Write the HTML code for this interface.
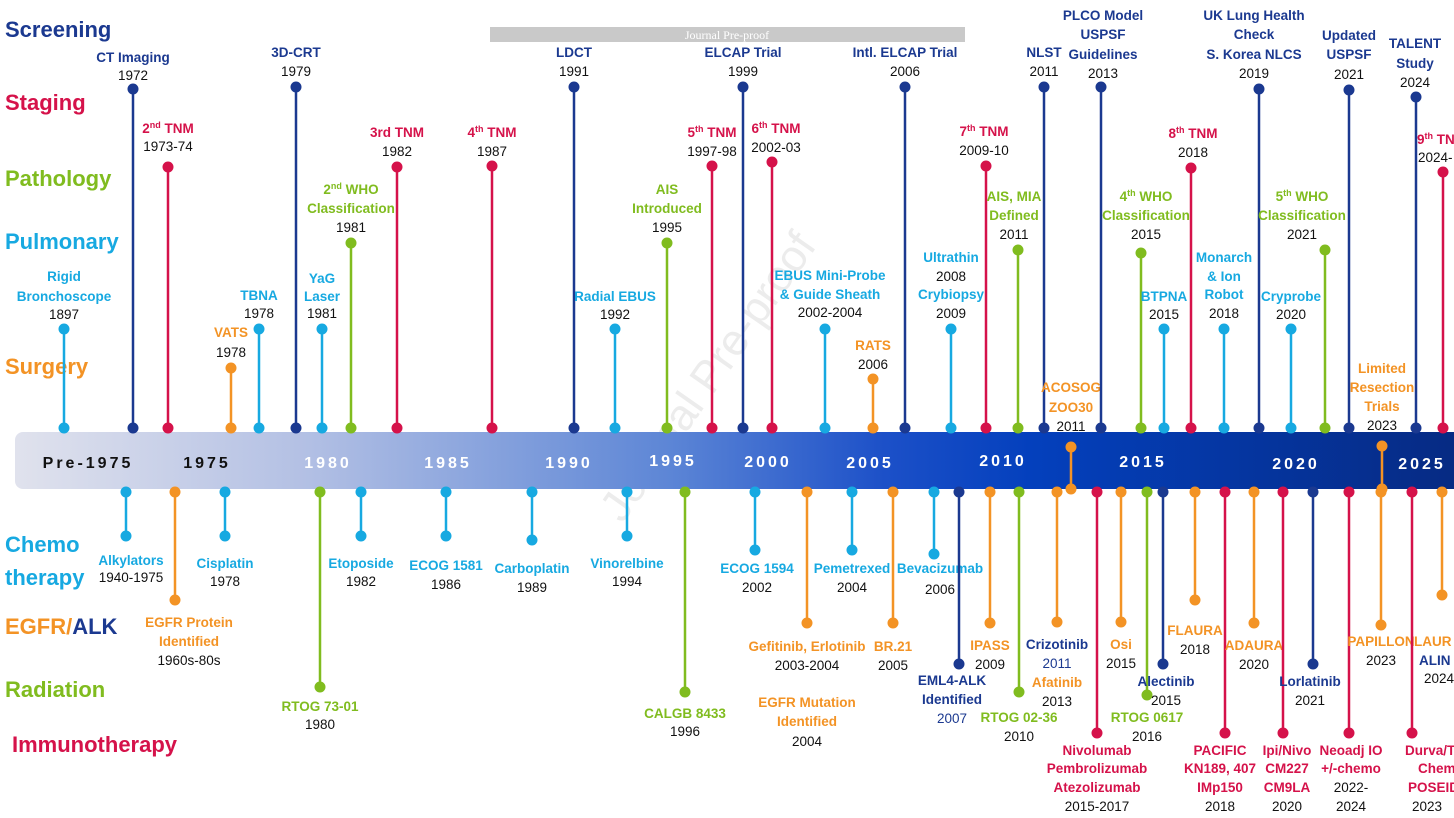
<!DOCTYPE html>
<html><head><meta charset="utf-8"><style>
html,body{margin:0;padding:0;background:#fff;}
svg{display:block;}
text{font-family:"Liberation Sans",sans-serif;}
.b{font-weight:bold;font-size:13.5px;}
.y{font-size:13.5px;fill:#111;}
.cat{font-weight:bold;font-size:22px;}
.ax{font-weight:bold;font-size:16px;fill:#fff;letter-spacing:3px;}
.n{fill:#1b3990;stroke:#1b3990;} .r{fill:#d5124a;stroke:#d5124a;} .g{fill:#80bc1f;stroke:#80bc1f;} .c{fill:#17a9e1;stroke:#17a9e1;} .o{fill:#f39325;stroke:#f39325;}
line{stroke-width:2.5;}
text.n,text.r,text.g,text.c,text.o,tspan{stroke:none;}
</style></head><body>
<svg width="1454" height="818" viewBox="0 0 1454 818" xmlns="http://www.w3.org/2000/svg">
<defs>
<linearGradient id="bg" x1="0" x2="1" y1="0" y2="0">
<stop offset="0" stop-color="#e0e2ed"/><stop offset="0.2" stop-color="#b3c0e4"/><stop offset="0.45" stop-color="#5d86d6"/><stop offset="0.6" stop-color="#1c50c8"/><stop offset="0.7" stop-color="#0440bd"/><stop offset="1" stop-color="#062a82"/>
</linearGradient>
</defs>
<rect x="490" y="27" width="475" height="15" fill="#c9c9c9"/>
<text x="727" y="39" text-anchor="middle" style="font-family:'Liberation Serif',serif;font-size:12px;fill:#fff">Journal Pre-proof</text>
<text x="720" y="385" text-anchor="middle" transform="rotate(-55 720 385)" style="font-size:44px;fill:#ececec">Journal Pre-proof</text>

<rect x="15" y="432" width="1450" height="57" rx="8" fill="url(#bg)"/>
<text x="88" y="468" text-anchor="middle" class="ax" style="fill:#111">Pre-1975</text>
<text x="207" y="468" text-anchor="middle" class="ax" style="fill:#111">1975</text>
<text x="328" y="468" text-anchor="middle" class="ax">1980</text>
<text x="448" y="468" text-anchor="middle" class="ax">1985</text>
<text x="569" y="468" text-anchor="middle" class="ax">1990</text>
<text x="673" y="466" text-anchor="middle" class="ax">1995</text>
<text x="768" y="467" text-anchor="middle" class="ax">2000</text>
<text x="870" y="468" text-anchor="middle" class="ax">2005</text>
<text x="1003" y="466" text-anchor="middle" class="ax">2010</text>
<text x="1143" y="467" text-anchor="middle" class="ax">2015</text>
<text x="1296" y="469" text-anchor="middle" class="ax">2020</text>
<text x="1422" y="469" text-anchor="middle" class="ax">2025</text>

<text x="5" y="37" class="cat n">Screening</text>
<text x="5" y="110" class="cat r">Staging</text>
<text x="5" y="186" class="cat g">Pathology</text>
<text x="5" y="249" class="cat c">Pulmonary</text>
<text x="5" y="374" class="cat o">Surgery</text>
<text x="5" y="552" class="cat c">Chemo</text>
<text x="5" y="585" class="cat c">therapy</text>
<text x="5" y="634" class="cat o">EGFR/<tspan style="fill:#1b3990">ALK</tspan></text>
<text x="5" y="697" class="cat g">Radiation</text>
<text x="12" y="752" class="cat r">Immunotherapy</text>

<g class="c"><line x1="64" y1="329" x2="64" y2="428"/><circle cx="64" cy="329" r="5"/><circle cx="64" cy="428" r="5"/></g>
<text x="64" y="281" text-anchor="middle" class="b c">Rigid</text><text x="64" y="301" text-anchor="middle" class="b c">Bronchoscope</text><text x="64" y="319" text-anchor="middle" class="y">1897</text>

<g class="n"><line x1="133" y1="89" x2="133" y2="428"/><circle cx="133" cy="89" r="5"/><circle cx="133" cy="428" r="5"/></g>
<text x="133" y="62" text-anchor="middle" class="b n">CT Imaging</text><text x="133" y="80" text-anchor="middle" class="y">1972</text>

<g class="r"><line x1="168" y1="167" x2="168" y2="428"/><circle cx="168" cy="167" r="5"/><circle cx="168" cy="428" r="5"/></g>
<text x="168" y="133" text-anchor="middle" class="b r">2<tspan font-size="9" dy="-5">nd</tspan><tspan dy="5"> TNM</tspan></text><text x="168" y="151" text-anchor="middle" class="y">1973-74</text>

<g class="o"><line x1="231" y1="368" x2="231" y2="428"/><circle cx="231" cy="368" r="5"/><circle cx="231" cy="428" r="5"/></g>
<text x="231" y="337" text-anchor="middle" class="b o">VATS</text><text x="231" y="357" text-anchor="middle" class="y">1978</text>

<g class="c"><line x1="259" y1="329" x2="259" y2="428"/><circle cx="259" cy="329" r="5"/><circle cx="259" cy="428" r="5"/></g>
<text x="259" y="300" text-anchor="middle" class="b c">TBNA</text><text x="259" y="318" text-anchor="middle" class="y">1978</text>

<g class="n"><line x1="296" y1="87" x2="296" y2="428"/><circle cx="296" cy="87" r="5"/><circle cx="296" cy="428" r="5"/></g>
<text x="296" y="57" text-anchor="middle" class="b n">3D-CRT</text><text x="296" y="76" text-anchor="middle" class="y">1979</text>

<g class="c"><line x1="322" y1="329" x2="322" y2="428"/><circle cx="322" cy="329" r="5"/><circle cx="322" cy="428" r="5"/></g>
<text x="322" y="283" text-anchor="middle" class="b c">YaG</text><text x="322" y="301" text-anchor="middle" class="b c">Laser</text><text x="322" y="318" text-anchor="middle" class="y">1981</text>

<g class="g"><line x1="351" y1="243" x2="351" y2="428"/><circle cx="351" cy="243" r="5"/><circle cx="351" cy="428" r="5"/></g>
<text x="351" y="194" text-anchor="middle" class="b g">2<tspan font-size="9" dy="-5">nd</tspan><tspan dy="5"> WHO</tspan></text><text x="351" y="213" text-anchor="middle" class="b g">Classification</text><text x="351" y="232" text-anchor="middle" class="y">1981</text>

<g class="r"><line x1="397" y1="167" x2="397" y2="428"/><circle cx="397" cy="167" r="5"/><circle cx="397" cy="428" r="5"/></g>
<text x="397" y="137" text-anchor="middle" class="b r">3rd TNM</text><text x="397" y="156" text-anchor="middle" class="y">1982</text>

<g class="r"><line x1="492" y1="166" x2="492" y2="428"/><circle cx="492" cy="166" r="5"/><circle cx="492" cy="428" r="5"/></g>
<text x="492" y="137" text-anchor="middle" class="b r">4<tspan font-size="9" dy="-5">th</tspan><tspan dy="5"> TNM</tspan></text><text x="492" y="156" text-anchor="middle" class="y">1987</text>

<g class="n"><line x1="574" y1="87" x2="574" y2="428"/><circle cx="574" cy="87" r="5"/><circle cx="574" cy="428" r="5"/></g>
<text x="574" y="57" text-anchor="middle" class="b n">LDCT</text><text x="574" y="76" text-anchor="middle" class="y">1991</text>

<g class="c"><line x1="615" y1="329" x2="615" y2="428"/><circle cx="615" cy="329" r="5"/><circle cx="615" cy="428" r="5"/></g>
<text x="615" y="301" text-anchor="middle" class="b c">Radial EBUS</text><text x="615" y="319" text-anchor="middle" class="y">1992</text>

<g class="g"><line x1="667" y1="243" x2="667" y2="428"/><circle cx="667" cy="243" r="5"/><circle cx="667" cy="428" r="5"/></g>
<text x="667" y="194" text-anchor="middle" class="b g">AIS</text><text x="667" y="213" text-anchor="middle" class="b g">Introduced</text><text x="667" y="232" text-anchor="middle" class="y">1995</text>

<g class="r"><line x1="712" y1="166" x2="712" y2="428"/><circle cx="712" cy="166" r="5"/><circle cx="712" cy="428" r="5"/></g>
<text x="712" y="137" text-anchor="middle" class="b r">5<tspan font-size="9" dy="-5">th</tspan><tspan dy="5"> TNM</tspan></text><text x="712" y="156" text-anchor="middle" class="y">1997-98</text>

<g class="n"><line x1="743" y1="87" x2="743" y2="428"/><circle cx="743" cy="87" r="5"/><circle cx="743" cy="428" r="5"/></g>
<text x="743" y="57" text-anchor="middle" class="b n">ELCAP Trial</text><text x="743" y="76" text-anchor="middle" class="y">1999</text>

<g class="r"><line x1="772" y1="162" x2="772" y2="428"/><circle cx="772" cy="162" r="5"/><circle cx="772" cy="428" r="5"/></g>
<text x="776" y="133" text-anchor="middle" class="b r">6<tspan font-size="9" dy="-5">th</tspan><tspan dy="5"> TNM</tspan></text><text x="776" y="152" text-anchor="middle" class="y">2002-03</text>

<g class="c"><line x1="825" y1="329" x2="825" y2="428"/><circle cx="825" cy="329" r="5"/><circle cx="825" cy="428" r="5"/></g>
<text x="830" y="280" text-anchor="middle" class="b c">EBUS Mini-Probe</text><text x="830" y="299" text-anchor="middle" class="b c">&amp; Guide Sheath</text><text x="830" y="317" text-anchor="middle" class="y">2002-2004</text>

<g class="o"><line x1="873" y1="379" x2="873" y2="428"/><circle cx="873" cy="379" r="5"/><circle cx="873" cy="428" r="5"/></g>
<text x="873" y="350" text-anchor="middle" class="b o">RATS</text><text x="873" y="369" text-anchor="middle" class="y">2006</text>

<g class="n"><line x1="905" y1="87" x2="905" y2="428"/><circle cx="905" cy="87" r="5"/><circle cx="905" cy="428" r="5"/></g>
<text x="905" y="57" text-anchor="middle" class="b n">Intl. ELCAP Trial</text><text x="905" y="76" text-anchor="middle" class="y">2006</text>

<g class="c"><line x1="951" y1="329" x2="951" y2="428"/><circle cx="951" cy="329" r="5"/><circle cx="951" cy="428" r="5"/></g>
<text x="951" y="262" text-anchor="middle" class="b c">Ultrathin</text><text x="951" y="281" text-anchor="middle" class="y">2008</text><text x="951" y="299" text-anchor="middle" class="b c">Crybiopsy</text><text x="951" y="318" text-anchor="middle" class="y">2009</text>

<g class="r"><line x1="986" y1="166" x2="986" y2="428"/><circle cx="986" cy="166" r="5"/><circle cx="986" cy="428" r="5"/></g>
<text x="984" y="136" text-anchor="middle" class="b r">7<tspan font-size="9" dy="-5">th</tspan><tspan dy="5"> TNM</tspan></text><text x="984" y="155" text-anchor="middle" class="y">2009-10</text>

<g class="g"><line x1="1018" y1="250" x2="1018" y2="428"/><circle cx="1018" cy="250" r="5"/><circle cx="1018" cy="428" r="5"/></g>
<text x="1014" y="201" text-anchor="middle" class="b g">AIS, MIA</text><text x="1014" y="220" text-anchor="middle" class="b g">Defined</text><text x="1014" y="239" text-anchor="middle" class="y">2011</text>

<g class="n"><line x1="1044" y1="87" x2="1044" y2="428"/><circle cx="1044" cy="87" r="5"/><circle cx="1044" cy="428" r="5"/></g>
<text x="1044" y="57" text-anchor="middle" class="b n">NLST</text><text x="1044" y="76" text-anchor="middle" class="y">2011</text>

<g class="o"><line x1="1071" y1="447" x2="1071" y2="489"/><circle cx="1071" cy="447" r="5"/><circle cx="1071" cy="489" r="5"/></g>
<text x="1071" y="392" text-anchor="middle" class="b o">ACOSOG</text><text x="1071" y="412" text-anchor="middle" class="b o">ZOO30</text><text x="1071" y="431" text-anchor="middle" class="y">2011</text>

<g class="n"><line x1="1101" y1="87" x2="1101" y2="428"/><circle cx="1101" cy="87" r="5"/><circle cx="1101" cy="428" r="5"/></g>
<text x="1103" y="20" text-anchor="middle" class="b n">PLCO Model</text><text x="1103" y="39" text-anchor="middle" class="b n">USPSF</text><text x="1103" y="59" text-anchor="middle" class="b n">Guidelines</text><text x="1103" y="78" text-anchor="middle" class="y">2013</text>

<g class="g"><line x1="1141" y1="253" x2="1141" y2="428"/><circle cx="1141" cy="253" r="5"/><circle cx="1141" cy="428" r="5"/></g>
<text x="1146" y="201" text-anchor="middle" class="b g">4<tspan font-size="9" dy="-5">th</tspan><tspan dy="5"> WHO</tspan></text><text x="1146" y="220" text-anchor="middle" class="b g">Classification</text><text x="1146" y="239" text-anchor="middle" class="y">2015</text>

<g class="c"><line x1="1164" y1="329" x2="1164" y2="428"/><circle cx="1164" cy="329" r="5"/><circle cx="1164" cy="428" r="5"/></g>
<text x="1164" y="301" text-anchor="middle" class="b c">BTPNA</text><text x="1164" y="319" text-anchor="middle" class="y">2015</text>

<g class="r"><line x1="1191" y1="168" x2="1191" y2="428"/><circle cx="1191" cy="168" r="5"/><circle cx="1191" cy="428" r="5"/></g>
<text x="1193" y="138" text-anchor="middle" class="b r">8<tspan font-size="9" dy="-5">th</tspan><tspan dy="5"> TNM</tspan></text><text x="1193" y="157" text-anchor="middle" class="y">2018</text>

<g class="c"><line x1="1224" y1="329" x2="1224" y2="428"/><circle cx="1224" cy="329" r="5"/><circle cx="1224" cy="428" r="5"/></g>
<text x="1224" y="262" text-anchor="middle" class="b c">Monarch</text><text x="1224" y="281" text-anchor="middle" class="b c">&amp; Ion</text><text x="1224" y="299" text-anchor="middle" class="b c">Robot</text><text x="1224" y="318" text-anchor="middle" class="y">2018</text>

<g class="n"><line x1="1259" y1="89" x2="1259" y2="428"/><circle cx="1259" cy="89" r="5"/><circle cx="1259" cy="428" r="5"/></g>
<text x="1254" y="20" text-anchor="middle" class="b n">UK Lung Health</text><text x="1254" y="39" text-anchor="middle" class="b n">Check</text><text x="1254" y="59" text-anchor="middle" class="b n">S. Korea NLCS</text><text x="1254" y="78" text-anchor="middle" class="y">2019</text>

<g class="c"><line x1="1291" y1="329" x2="1291" y2="428"/><circle cx="1291" cy="329" r="5"/><circle cx="1291" cy="428" r="5"/></g>
<text x="1291" y="301" text-anchor="middle" class="b c">Cryprobe</text><text x="1291" y="319" text-anchor="middle" class="y">2020</text>

<g class="g"><line x1="1325" y1="250" x2="1325" y2="428"/><circle cx="1325" cy="250" r="5"/><circle cx="1325" cy="428" r="5"/></g>
<text x="1302" y="201" text-anchor="middle" class="b g">5<tspan font-size="9" dy="-5">th</tspan><tspan dy="5"> WHO</tspan></text><text x="1302" y="220" text-anchor="middle" class="b g">Classification</text><text x="1302" y="239" text-anchor="middle" class="y">2021</text>

<g class="n"><line x1="1349" y1="90" x2="1349" y2="428"/><circle cx="1349" cy="90" r="5"/><circle cx="1349" cy="428" r="5"/></g>
<text x="1349" y="40" text-anchor="middle" class="b n">Updated</text><text x="1349" y="59" text-anchor="middle" class="b n">USPSF</text><text x="1349" y="79" text-anchor="middle" class="y">2021</text>

<g class="o"><line x1="1382" y1="446" x2="1382" y2="489"/><circle cx="1382" cy="446" r="5"/><circle cx="1382" cy="489" r="5"/></g>
<text x="1382" y="373" text-anchor="middle" class="b o">Limited</text><text x="1382" y="392" text-anchor="middle" class="b o">Resection</text><text x="1382" y="411" text-anchor="middle" class="b o">Trials</text><text x="1382" y="430" text-anchor="middle" class="y">2023</text>

<g class="n"><line x1="1416" y1="97" x2="1416" y2="428"/><circle cx="1416" cy="97" r="5"/><circle cx="1416" cy="428" r="5"/></g>
<text x="1415" y="48" text-anchor="middle" class="b n">TALENT</text><text x="1415" y="68" text-anchor="middle" class="b n">Study</text><text x="1415" y="87" text-anchor="middle" class="y">2024</text>

<g class="r"><line x1="1443" y1="172" x2="1443" y2="428"/><circle cx="1443" cy="172" r="5"/><circle cx="1443" cy="428" r="5"/></g>
<text x="1417" y="144" class="b r">9<tspan font-size="9" dy="-5">th</tspan><tspan dy="5"> TNM</tspan></text><text x="1418" y="162" class="y">2024-</text>

<g class="c"><line x1="126" y1="492" x2="126" y2="536"/><circle cx="126" cy="492" r="5"/><circle cx="126" cy="536" r="5"/></g>
<text x="131" y="565" text-anchor="middle" class="b c">Alkylators</text><text x="131" y="582" text-anchor="middle" class="y">1940-1975</text>

<g class="o"><line x1="175" y1="492" x2="175" y2="600"/><circle cx="175" cy="492" r="5"/><circle cx="175" cy="600" r="5"/></g>
<text x="189" y="627" text-anchor="middle" class="b o">EGFR Protein</text><text x="189" y="646" text-anchor="middle" class="b o">Identified</text><text x="189" y="665" text-anchor="middle" class="y">1960s-80s</text>

<g class="c"><line x1="225" y1="492" x2="225" y2="536"/><circle cx="225" cy="492" r="5"/><circle cx="225" cy="536" r="5"/></g>
<text x="225" y="568" text-anchor="middle" class="b c">Cisplatin</text><text x="225" y="586" text-anchor="middle" class="y">1978</text>

<g class="g"><line x1="320" y1="492" x2="320" y2="687"/><circle cx="320" cy="492" r="5"/><circle cx="320" cy="687" r="5"/></g>
<text x="320" y="711" text-anchor="middle" class="b g">RTOG 73-01</text><text x="320" y="729" text-anchor="middle" class="y">1980</text>

<g class="c"><line x1="361" y1="492" x2="361" y2="536"/><circle cx="361" cy="492" r="5"/><circle cx="361" cy="536" r="5"/></g>
<text x="361" y="568" text-anchor="middle" class="b c">Etoposide</text><text x="361" y="586" text-anchor="middle" class="y">1982</text>

<g class="c"><line x1="446" y1="492" x2="446" y2="536"/><circle cx="446" cy="492" r="5"/><circle cx="446" cy="536" r="5"/></g>
<text x="446" y="570" text-anchor="middle" class="b c">ECOG 1581</text><text x="446" y="589" text-anchor="middle" class="y">1986</text>

<g class="c"><line x1="532" y1="492" x2="532" y2="540"/><circle cx="532" cy="492" r="5"/><circle cx="532" cy="540" r="5"/></g>
<text x="532" y="573" text-anchor="middle" class="b c">Carboplatin</text><text x="532" y="592" text-anchor="middle" class="y">1989</text>

<g class="c"><line x1="627" y1="492" x2="627" y2="536"/><circle cx="627" cy="492" r="5"/><circle cx="627" cy="536" r="5"/></g>
<text x="627" y="568" text-anchor="middle" class="b c">Vinorelbine</text><text x="627" y="586" text-anchor="middle" class="y">1994</text>

<g class="g"><line x1="685" y1="492" x2="685" y2="692"/><circle cx="685" cy="492" r="5"/><circle cx="685" cy="692" r="5"/></g>
<text x="685" y="718" text-anchor="middle" class="b g">CALGB 8433</text><text x="685" y="736" text-anchor="middle" class="y">1996</text>

<g class="c"><line x1="755" y1="492" x2="755" y2="550"/><circle cx="755" cy="492" r="5"/><circle cx="755" cy="550" r="5"/></g>
<text x="757" y="573" text-anchor="middle" class="b c">ECOG 1594</text><text x="757" y="592" text-anchor="middle" class="y">2002</text>

<g class="o"><line x1="807" y1="492" x2="807" y2="623"/><circle cx="807" cy="492" r="5"/><circle cx="807" cy="623" r="5"/></g>
<text x="807" y="651" text-anchor="middle" class="b o">Gefitinib, Erlotinib</text><text x="807" y="670" text-anchor="middle" class="y">2003-2004</text>
<text x="807" y="707" text-anchor="middle" class="b o">EGFR Mutation</text><text x="807" y="726" text-anchor="middle" class="b o">Identified</text><text x="807" y="746" text-anchor="middle" class="y">2004</text>

<g class="c"><line x1="852" y1="492" x2="852" y2="550"/><circle cx="852" cy="492" r="5"/><circle cx="852" cy="550" r="5"/></g>
<text x="852" y="573" text-anchor="middle" class="b c">Pemetrexed</text><text x="852" y="592" text-anchor="middle" class="y">2004</text>

<g class="o"><line x1="893" y1="492" x2="893" y2="623"/><circle cx="893" cy="492" r="5"/><circle cx="893" cy="623" r="5"/></g>
<text x="893" y="651" text-anchor="middle" class="b o">BR.21</text><text x="893" y="670" text-anchor="middle" class="y">2005</text>

<g class="c"><line x1="934" y1="492" x2="934" y2="554"/><circle cx="934" cy="492" r="5"/><circle cx="934" cy="554" r="5"/></g>
<text x="940" y="573" text-anchor="middle" class="b c">Bevacizumab</text><text x="940" y="594" text-anchor="middle" class="y">2006</text>

<g class="n"><line x1="959" y1="492" x2="959" y2="664"/><circle cx="959" cy="492" r="5"/><circle cx="959" cy="664" r="5"/></g>
<text x="952" y="685" text-anchor="middle" class="b n">EML4-ALK</text><text x="952" y="704" text-anchor="middle" class="b n">Identified</text><text x="952" y="723" text-anchor="middle" class="y" style="fill:#1b3990">2007</text>

<g class="o"><line x1="990" y1="492" x2="990" y2="623"/><circle cx="990" cy="492" r="5"/><circle cx="990" cy="623" r="5"/></g>
<text x="990" y="650" text-anchor="middle" class="b o">IPASS</text><text x="990" y="669" text-anchor="middle" class="y">2009</text>

<g class="g"><line x1="1019" y1="492" x2="1019" y2="692"/><circle cx="1019" cy="492" r="5"/><circle cx="1019" cy="692" r="5"/></g>
<text x="1019" y="722" text-anchor="middle" class="b g">RTOG 02-36</text><text x="1019" y="741" text-anchor="middle" class="y">2010</text>

<g class="o"><line x1="1057" y1="492" x2="1057" y2="622"/><circle cx="1057" cy="492" r="5"/><circle cx="1057" cy="622" r="5"/></g>
<text x="1057" y="649" text-anchor="middle" class="b n">Crizotinib</text><text x="1057" y="668" text-anchor="middle" class="y" style="fill:#1b3990">2011</text><text x="1057" y="687" text-anchor="middle" class="b o">Afatinib</text><text x="1057" y="706" text-anchor="middle" class="y">2013</text>

<g class="r"><line x1="1097" y1="492" x2="1097" y2="733"/><circle cx="1097" cy="492" r="5"/><circle cx="1097" cy="733" r="5"/></g>
<text x="1097" y="755" text-anchor="middle" class="b r">Nivolumab</text><text x="1097" y="773" text-anchor="middle" class="b r">Pembrolizumab</text><text x="1097" y="792" text-anchor="middle" class="b r">Atezolizumab</text><text x="1097" y="811" text-anchor="middle" class="y">2015-2017</text>

<g class="o"><line x1="1121" y1="492" x2="1121" y2="622"/><circle cx="1121" cy="492" r="5"/><circle cx="1121" cy="622" r="5"/></g>
<text x="1121" y="649" text-anchor="middle" class="b o">Osi</text><text x="1121" y="668" text-anchor="middle" class="y">2015</text>

<g class="g"><line x1="1147" y1="492" x2="1147" y2="695"/><circle cx="1147" cy="492" r="5"/><circle cx="1147" cy="695" r="5"/></g>
<text x="1147" y="722" text-anchor="middle" class="b g">RTOG 0617</text><text x="1147" y="741" text-anchor="middle" class="y">2016</text>

<g class="n"><line x1="1163" y1="492" x2="1163" y2="664"/><circle cx="1163" cy="492" r="5"/><circle cx="1163" cy="664" r="5"/></g>
<text x="1166" y="686" text-anchor="middle" class="b n">Alectinib</text><text x="1166" y="705" text-anchor="middle" class="y">2015</text>

<g class="o"><line x1="1195" y1="492" x2="1195" y2="600"/><circle cx="1195" cy="492" r="5"/><circle cx="1195" cy="600" r="5"/></g>
<text x="1195" y="635" text-anchor="middle" class="b o">FLAURA</text><text x="1195" y="654" text-anchor="middle" class="y">2018</text>

<g class="r"><line x1="1225" y1="492" x2="1225" y2="733"/><circle cx="1225" cy="492" r="5"/><circle cx="1225" cy="733" r="5"/></g>
<text x="1220" y="755" text-anchor="middle" class="b r">PACIFIC</text><text x="1220" y="773" text-anchor="middle" class="b r">KN189, 407</text><text x="1220" y="792" text-anchor="middle" class="b r">IMp150</text><text x="1220" y="811" text-anchor="middle" class="y">2018</text>

<g class="o"><line x1="1254" y1="492" x2="1254" y2="623"/><circle cx="1254" cy="492" r="5"/><circle cx="1254" cy="623" r="5"/></g>
<text x="1254" y="650" text-anchor="middle" class="b o">ADAURA</text><text x="1254" y="669" text-anchor="middle" class="y">2020</text>

<g class="r"><line x1="1283" y1="492" x2="1283" y2="733"/><circle cx="1283" cy="492" r="5"/><circle cx="1283" cy="733" r="5"/></g>
<text x="1287" y="755" text-anchor="middle" class="b r">Ipi/Nivo</text><text x="1287" y="773" text-anchor="middle" class="b r">CM227</text><text x="1287" y="792" text-anchor="middle" class="b r">CM9LA</text><text x="1287" y="811" text-anchor="middle" class="y">2020</text>

<g class="n"><line x1="1313" y1="492" x2="1313" y2="664"/><circle cx="1313" cy="492" r="5"/><circle cx="1313" cy="664" r="5"/></g>
<text x="1310" y="686" text-anchor="middle" class="b n">Lorlatinib</text><text x="1310" y="705" text-anchor="middle" class="y">2021</text>

<g class="r"><line x1="1349" y1="492" x2="1349" y2="733"/><circle cx="1349" cy="492" r="5"/><circle cx="1349" cy="733" r="5"/></g>
<text x="1351" y="755" text-anchor="middle" class="b r">Neoadj IO</text><text x="1351" y="773" text-anchor="middle" class="b r">+/-chemo</text><text x="1351" y="792" text-anchor="middle" class="y">2022-</text><text x="1351" y="811" text-anchor="middle" class="y">2024</text>

<g class="o"><line x1="1381" y1="492" x2="1381" y2="625"/><circle cx="1381" cy="492" r="5"/><circle cx="1381" cy="625" r="5"/></g>
<text x="1381" y="646" text-anchor="middle" class="b o">PAPILLON</text><text x="1381" y="665" text-anchor="middle" class="y">2023</text>

<g class="r"><line x1="1412" y1="492" x2="1412" y2="733"/><circle cx="1412" cy="492" r="5"/><circle cx="1412" cy="733" r="5"/></g>
<text x="1405" y="755" class="b r">Durva/Tre</text><text x="1418" y="773" class="b r">Chem</text><text x="1408" y="792" class="b r">POSEID</text><text x="1412" y="811" class="y">2023</text>

<g class="o"><line x1="1442" y1="492" x2="1442" y2="595"/><circle cx="1442" cy="492" r="5"/><circle cx="1442" cy="595" r="5"/></g>
<text x="1414" y="646" class="b o">LAUR</text><text x="1419" y="665" class="b n">ALIN</text><text x="1424" y="683" class="y">2024</text>
</svg>
</body></html>
